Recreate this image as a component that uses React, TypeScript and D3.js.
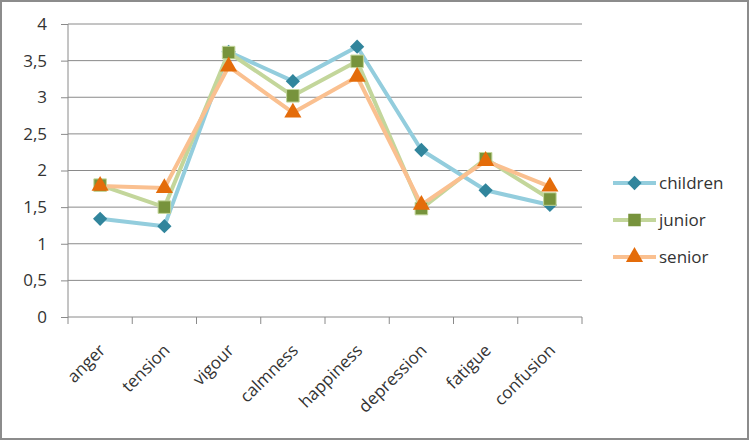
import { useEffect, useRef } from 'react'
import * as d3 from 'd3'

const categories = ['anger', 'tension', 'vigour', 'calmness', 'happiness', 'depression', 'fatigue', 'confusion']
const children = [1.34, 1.24, 3.62, 3.22, 3.69, 2.28, 1.73, 1.53]
const junior = [1.8, 1.5, 3.61, 3.02, 3.49, 1.48, 2.16, 1.61]
const senior = [1.79, 1.76, 3.42, 2.79, 3.28, 1.53, 2.13, 1.78]
const yTicks = [0, 0.5, 1, 1.5, 2, 2.5, 3, 3.5, 4]

const series = [
  { name: 'children', values: children, line: '#93CDDD', marker: '#31859C', shape: 'diamond' },
  { name: 'junior', values: junior, line: '#C3D69B', marker: '#77933C', shape: 'square' },
  { name: 'senior', values: senior, line: '#FAC090', marker: '#E46C0A', shape: 'triangle' },
]

export default function App() {
  const ref = useRef<SVGSVGElement | null>(null)

  useEffect(() => {
    document.body.style.margin = '0'
    const svg = d3.select(ref.current)
    svg.selectAll('*').remove()

    const W = 749
    const H = 440
    const margin = { top: 24, right: 167, bottom: 123, left: 68 }
    const width = W - margin.left - margin.right
    const height = H - margin.top - margin.bottom
    const font = 'Open Sans, Liberation Sans, sans-serif'
    const textColor = '#333'

    // frame
    svg.append('rect')
      .attr('x', 1).attr('y', 1).attr('width', W - 2).attr('height', H - 2)
      .attr('fill', '#fff').attr('stroke', '#8c8c8c').attr('stroke-width', 2)

    const chart = svg.append('g').attr('transform', `translate(${margin.left},${margin.top})`)

    const x = d3.scaleBand().domain(categories).range([0, width])
    const y = d3.scaleLinear().domain([0, 4]).range([height, 0])

    // gridlines
    chart.selectAll('.grid')
      .data(yTicks.slice(1))
      .enter()
      .append('line')
      .attr('x1', 0).attr('x2', width)
      .attr('y1', (d) => y(d)).attr('y2', (d) => y(d))
      .attr('stroke', '#8a8a8a').attr('stroke-width', 1)

    // y axis
    const yAxis = chart.append('g')
      .call(d3.axisLeft(y).tickValues(yTicks).tickSize(7).tickPadding(14)
        .tickFormat((d) => String(d).replace('.', ',')))
    yAxis.select('.domain').attr('stroke', '#8a8a8a').attr('d', `M0,0V${height}`)
    yAxis.selectAll('.tick line').attr('stroke', '#8a8a8a')
    yAxis.selectAll('.tick text').attr('font-family', font).attr('font-size', 17).attr('fill', textColor)

    // x axis
    const xAxis = chart.append('g').attr('transform', `translate(0,${height})`)
    xAxis.append('line').attr('x1', 0).attr('x2', width).attr('stroke', '#8a8a8a')
    xAxis.selectAll('.xt')
      .data(d3.range(categories.length + 1))
      .enter()
      .append('line')
      .attr('x1', (i) => i * x.step()).attr('x2', (i) => i * x.step())
      .attr('y1', 0).attr('y2', 7)
      .attr('stroke', '#8a8a8a')
    xAxis.selectAll('.xl')
      .data(categories)
      .enter()
      .append('text')
      .attr('transform', (d) => `translate(${x(d)! + x.bandwidth() / 2 - 2},${26}) rotate(-45)`)
      .attr('text-anchor', 'end')
      .attr('dy', '0.7em')
      .attr('font-family', font)
      .attr('font-size', 17)
      .attr('fill', textColor)
      .text((d) => d)

    const cx = (i: number) => x(categories[i])! + x.bandwidth() / 2
    const line = d3.line<number>().x((_, i) => cx(i)).y((d) => y(d))

    const symbolOf = (shape: string) =>
      shape === 'diamond'
        ? d3.symbol().type(d3.symbolDiamond2).size(130)
        : shape === 'square'
          ? d3.symbol().type(d3.symbolSquare2).size(200)
          : d3.symbol().type(d3.symbolTriangle2).size(210)

    series.forEach((s) => {
      chart.append('path')
        .datum(s.values)
        .attr('d', line)
        .attr('fill', 'none')
        .attr('stroke', s.line)
        .attr('stroke-width', 4)
        .attr('stroke-linejoin', 'round')
    })
    series.forEach((s) => {
      chart.selectAll(`.m-${s.name}`)
        .data(s.values)
        .enter()
        .append('path')
        .attr('transform', (d, i) => `translate(${cx(i)},${y(d)})`)
        .attr('d', symbolOf(s.shape)()!)
        .attr('fill', s.marker)
        .attr('stroke', s.shape === 'square' ? '#C3D69B' : 'none')
        .attr('stroke-width', 1)
    })

    // legend
    const legend = svg.append('g').attr('transform', 'translate(613,183)')
    series.forEach((s, i) => {
      const g = legend.append('g').attr('transform', `translate(0,${i * 37})`)
      g.append('line').attr('x1', 0).attr('x2', 43).attr('stroke', s.line).attr('stroke-width', 4)
      g.append('path')
        .attr('transform', 'translate(21.5,0)')
        .attr('d', symbolOf(s.shape)()!)
        .attr('fill', s.marker)
      g.append('text')
        .attr('x', 46).attr('dy', '0.35em')
        .attr('font-family', font).attr('font-size', 17).attr('fill', textColor)
        .text(s.name)
    })
  }, [])

  return <svg ref={ref} width={749} height={440} style={{ display: 'block' }} />
}
